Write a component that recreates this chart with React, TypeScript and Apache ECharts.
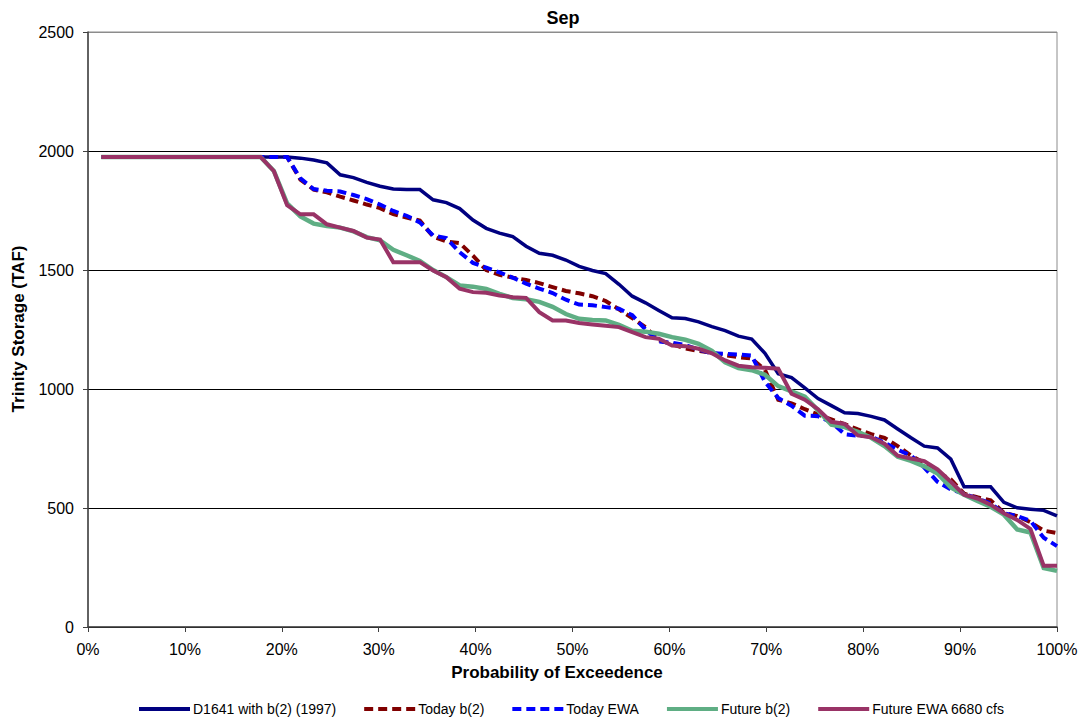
import React, { useEffect, useRef } from "react";
import * as echarts from "echarts";

// Exceedance plotting position for 73 ranked years: rank / 73
const years = 73;
const exceedancePct = Array.from({ length: years }, (_, i) => ((i + 1) / years) * 100);

const xTicks = [0, 10, 20, 30, 40, 50, 60, 70, 80, 90, 100];
const yTicks = [0, 500, 1000, 1500, 2000, 2500];

const seriesNames = [
  "D1641 with b(2) (1997)",
  "Today b(2)",
  "Today EWA",
  "Future b(2)",
  "Future EWA 6680 cfs",
];

const d1641 = [
  1975, 1975, 1975, 1975, 1975, 1975, 1975, 1975, 1975, 1975, 1975, 1975, 1975, 1975, 1975,
  1970, 1962, 1950, 1900, 1888, 1868, 1852, 1840, 1838, 1838, 1795, 1783, 1758, 1710, 1675,
  1655, 1640, 1600, 1570, 1562, 1542, 1515, 1498, 1485, 1440, 1390, 1362, 1330, 1299, 1296,
  1282, 1262, 1245, 1222, 1210, 1150, 1064, 1048, 1005, 960, 930, 900, 897, 885, 870,
  832, 795, 760, 752, 705, 589, 589, 589, 524, 501, 495, 490, 467,
];

const todayB2 = [
  1975, 1975, 1975, 1975, 1975, 1975, 1975, 1975, 1975, 1975, 1975, 1975, 1975, 1975, 1975,
  1880, 1838, 1826, 1808, 1792, 1775, 1760, 1735, 1720, 1708, 1640, 1620, 1613, 1560, 1500,
  1480, 1468, 1458, 1445, 1428, 1412, 1402, 1390, 1370, 1335, 1298, 1260, 1205, 1188, 1170,
  1160, 1152, 1142, 1134, 1128, 1080, 955, 940, 915, 893, 872, 852, 830, 810, 795,
  760, 720, 690, 650, 620, 560, 545, 532, 480, 466, 440, 405, 395,
];

const todayEWA = [
  1975, 1975, 1975, 1975, 1975, 1975, 1975, 1975, 1975, 1975, 1975, 1975, 1975, 1975, 1975,
  1885, 1840, 1833, 1830, 1815, 1798, 1775, 1748, 1728, 1700, 1645, 1634, 1575, 1530, 1510,
  1490, 1468, 1443, 1422, 1403, 1375, 1355, 1352, 1344, 1337, 1310, 1250, 1200, 1194, 1185,
  1165, 1150, 1148, 1145, 1140, 1030, 962, 930, 888, 886, 860, 810, 804, 800, 775,
  745, 720, 670, 610, 578, 560, 540, 520, 478, 466, 446, 375, 340,
];

const futureB2 = [
  1975, 1975, 1975, 1975, 1975, 1975, 1975, 1975, 1975, 1975, 1975, 1975, 1975,
  1916, 1780, 1725, 1695, 1685, 1678, 1662, 1638, 1625, 1585, 1562, 1538, 1500, 1470,
  1435, 1430, 1420, 1400, 1382, 1377, 1366, 1345, 1315, 1295, 1290, 1288, 1270, 1245,
  1241, 1232, 1218, 1207, 1190, 1160, 1112, 1088, 1079, 1060, 1012, 990, 968, 910,
  850, 840, 820, 795, 760, 715, 698, 675, 645, 586, 556, 530, 505, 472, 410, 397, 248, 236,
];

const futureEWA = [
  1975, 1975, 1975, 1975, 1975, 1975, 1975, 1975, 1975, 1975, 1975, 1975, 1975,
  1916, 1772, 1734, 1734, 1692, 1678, 1664, 1636, 1628, 1533, 1533, 1533, 1498, 1470,
  1421, 1407, 1404, 1393, 1386, 1383, 1323, 1288, 1288, 1277, 1271, 1266, 1260, 1239,
  1218, 1211, 1183, 1180, 1169, 1150, 1120, 1098, 1091, 1089, 1085, 980, 955, 915,
  862, 853, 805, 797, 770, 720, 708, 697, 662, 610, 556, 540, 514, 478, 450, 412, 257, 257,
];

const seriesValues = [d1641, todayB2, todayEWA, futureB2, futureEWA];
const seriesColors = ["#000080", "#800000", "#0000FF", "#5FAE84", "#993366"];
const seriesWidths = [3.5, 4, 4, 4.5, 4];
const seriesDashed = [false, true, true, false, false];

const FONT = '"Liberation Sans", Arial, sans-serif';

export default function App() {
  const ref = useRef<HTMLDivElement>(null);

  useEffect(() => {
    if (!ref.current) return;
    const chart = echarts.init(ref.current, undefined, { renderer: "svg" });

    const series = seriesNames.map((name, k) => ({
      name,
      type: "line",
      data: seriesValues[k].map((v, i) => [exceedancePct[i], v]),
      showSymbol: false,
      symbol: "none",
      lineStyle: {
        color: seriesColors[k],
        width: seriesWidths[k],
        type: seriesDashed[k] ? [9, 5] : "solid",
        cap: "butt",
        join: "miter",
      },
      itemStyle: { color: seriesColors[k] },
      z: 2 + k,
    }));

    chart.setOption({
      animation: false,
      backgroundColor: "#ffffff",
      textStyle: { fontFamily: FONT },
      grid: {
        left: 88,
        top: 32,
        right: 26,
        bottom: 94,
        show: true,
        borderColor: "#8c8c8c",
        borderWidth: 1,
        containLabel: false,
      },
      xAxis: {
        type: "value",
        min: xTicks[0],
        max: xTicks[xTicks.length - 1],
        interval: 10,
        axisLine: { show: true, lineStyle: { color: "#404040", width: 1.5 } },
        axisTick: { show: true, length: 5, lineStyle: { color: "#404040" } },
        axisLabel: {
          margin: 14,
          fontSize: 16,
          color: "#000",
          fontFamily: FONT,
          formatter: (v: number) => `${v}%`,
        },
        splitLine: { show: false },
      },
      yAxis: {
        type: "value",
        min: yTicks[0],
        max: yTicks[yTicks.length - 1],
        interval: 500,
        axisLine: { show: true, lineStyle: { color: "#404040", width: 1.5 } },
        axisTick: { show: true, length: 5, lineStyle: { color: "#404040" } },
        axisLabel: {
          margin: 14,
          fontSize: 16,
          color: "#000",
          fontFamily: FONT,
          formatter: (v: number) => String(v),
        },
        splitLine: {
          show: true,
          lineStyle: {
            color: ["#000000", "#000000", "#000000", "#000000", "#000000", "#8c8c8c"],
            width: 1,
          },
        },
      },
      legend: {
        data: seriesNames,
        top: 697,
        left: 132,
        itemWidth: 51,
        itemHeight: 12,
        itemGap: 26,
        itemStyle: { opacity: 0 },
        lineStyle: { width: 4 },
        textStyle: { fontSize: 14, color: "#000", fontFamily: FONT, padding: [0, 0, 0, -2] },
      },
      graphic: [
        {
          type: "text",
          x: 563,
          y: 18,
          style: {
            text: "Sep",
            fill: "#000",
            fontSize: 18,
            fontWeight: "bold",
            fontFamily: FONT,
            align: "center",
            verticalAlign: "middle",
          },
        },
        {
          type: "text",
          x: 557,
          y: 672,
          style: {
            text: "Probability of Exceedence",
            fill: "#000",
            fontSize: 17,
            fontWeight: "bold",
            fontFamily: FONT,
            align: "center",
            verticalAlign: "middle",
          },
        },
        {
          type: "text",
          x: 18,
          y: 329,
          rotation: Math.PI / 2,
          style: {
            text: "Trinity Storage (TAF)",
            fill: "#000",
            fontSize: 17,
            fontWeight: "bold",
            fontFamily: FONT,
            align: "center",
            verticalAlign: "middle",
          },
        },
      ],
      series,
    });

    return () => {
      chart.dispose();
    };
  }, []);

  return (
    <div
      ref={ref}
      style={{ position: "fixed", left: 0, top: 0, width: 1083, height: 721, background: "#fff" }}
    />
  );
}
